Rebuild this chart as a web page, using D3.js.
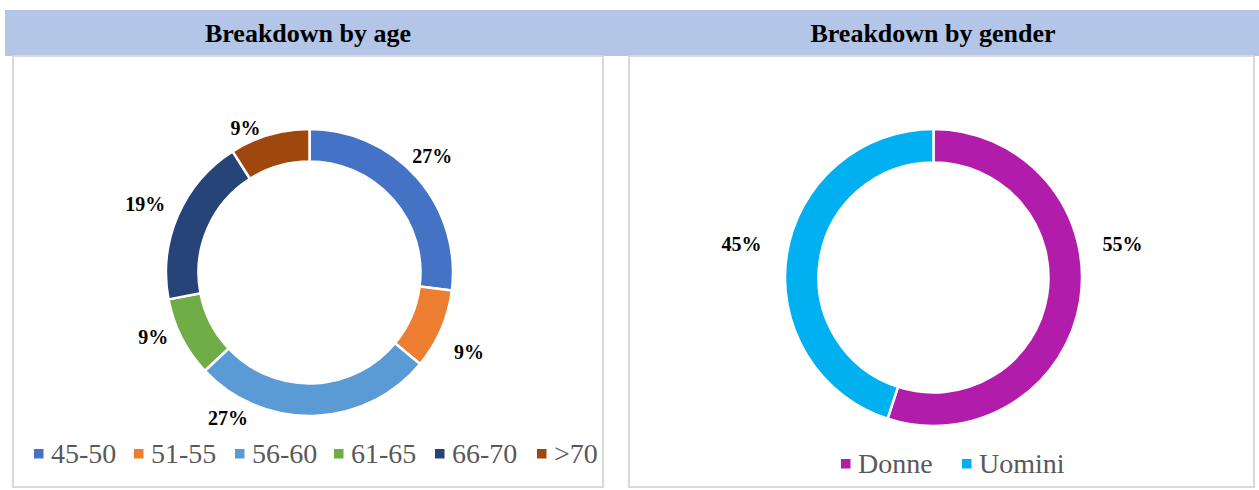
<!DOCTYPE html>
<html>
<head>
<meta charset="utf-8">
<script src="https://cdn.jsdelivr.net/npm/d3@7"></script>
<style>
  html, body { margin: 0; padding: 0; background: #fff; }
  svg { display: block; }
</style>
</head>
<body>
<svg id="chart" width="1259" height="490"></svg>
<script>
// ---- data ----
const ageCategories = ["45-50", "51-55", "56-60", "61-65", "66-70", ">70"];
const ageValues = [27, 9, 27, 9, 19, 9];
const ageColors = ["#4472c4", "#ed7d31", "#5b9bd5", "#70ad47", "#264478", "#9e480e"];

const genderCategories = ["Donne", "Uomini"];
const genderValues = [55, 45];
const genderColors = ["#b21caa", "#00b0f0"];

const titles = ["Breakdown by age", "Breakdown by gender"];

// ---- layout ----
const svg = d3.select("#chart");
const W = 1259, H = 490;

// header band
svg.append("rect").attr("x", 5).attr("y", 10).attr("width", W - 5).attr("height", 46).attr("fill", "#b4c6e7");

const panels = [
  { x: 13, w: 590, cx: 309.5, cy: 272.5, ro: 143.5, ri: 111, title: titles[0], tx: 308,
    cats: ageCategories, vals: ageValues, cols: ageColors,
    // label placement (angle offset in degrees, radius) mimicking best-fit positions
    lab: [[-2, 169], [3, 178], [31, 167], [4.6, 169], [-0.8, 178], [-7.7, 158]],
    legendY: 463, legendX: 34, legendStep: [0, 100, 201, 300, 401, 503] },
  { x: 629, w: 625, cx: 933.5, cy: 277.5, ro: 148.5, ri: 115, title: titles[1], tx: 933,
    cats: genderCategories, vals: genderValues, cols: genderColors,
    lab: [[-19, 192], [1, 195]],
    legendY: 473, legendX: 841, legendStep: [0, 121] }
];

panels.forEach(p => {
  svg.append("rect")
    .attr("x", p.x).attr("y", 56).attr("width", p.w).attr("height", 431)
    .attr("fill", "#fff").attr("stroke", "#d9d9d9").attr("stroke-width", 2);

  svg.append("text")
    .attr("x", p.tx).attr("y", 42)
    .attr("text-anchor", "middle")
    .attr("font-family", "'Liberation Serif', 'Times New Roman', serif")
    .attr("font-weight", "bold").attr("font-size", 26)
    .attr("fill", "#000")
    .text(p.title);

  const total = d3.sum(p.vals);
  const pie = d3.pie().sort(null).value(d => d)(p.vals);
  const arc = d3.arc().innerRadius(p.ri).outerRadius(p.ro);
  const g = svg.append("g").attr("transform", `translate(${p.cx},${p.cy})`);

  g.selectAll("path").data(pie).join("path")
    .attr("d", arc)
    .attr("fill", (d, i) => p.cols[i])
    .attr("stroke", "#fff").attr("stroke-width", 2.5).attr("stroke-linejoin", "miter");

  g.selectAll("text.lbl").data(pie).join("text")
    .attr("class", "lbl")
    .attr("x", (d, i) => {
      const a = (d.startAngle + d.endAngle) / 2 + p.lab[i][0] * Math.PI / 180;
      return Math.sin(a) * p.lab[i][1];
    })
    .attr("y", (d, i) => {
      const a = (d.startAngle + d.endAngle) / 2 + p.lab[i][0] * Math.PI / 180;
      return -Math.cos(a) * p.lab[i][1];
    })
    .attr("text-anchor", "middle")
    .attr("dy", "0.35em")
    .attr("font-family", "'Liberation Serif', 'Times New Roman', serif")
    .attr("font-weight", "bold").attr("font-size", 20)
    .attr("fill", "#000")
    .text(d => Math.round(d.data / total * 100) + "%");

  // legend
  const lg = svg.append("g");
  p.cats.forEach((c, i) => {
    const x = p.legendX + p.legendStep[i];
    lg.append("rect").attr("x", x).attr("y", p.legendY - 14).attr("width", 9.5).attr("height", 9.5).attr("fill", p.cols[i]);
    lg.append("text").attr("x", x + 17).attr("y", p.legendY)
      .attr("font-family", "'Liberation Serif', 'Times New Roman', serif")
      .attr("font-size", 28).attr("fill", "#595959")
      .text(c);
  });
});
</script>
</body>
</html>
